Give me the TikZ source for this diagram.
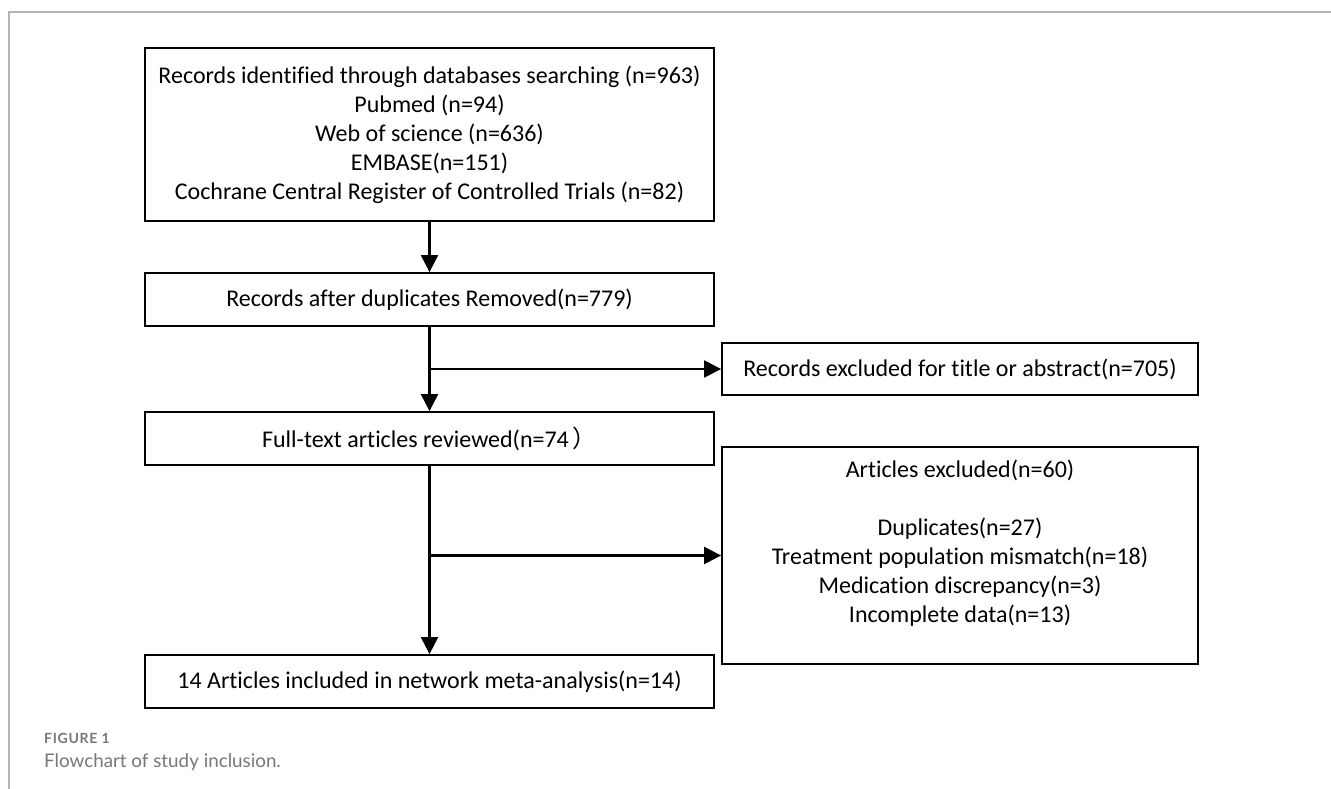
\documentclass[tikz,border=0pt]{standalone}
\usepackage{fontspec}
\setmainfont{Carlito}[Ligatures=NoCommon]
\newfontfamily\capfont{Lato}
\newfontfamily\capfontwide{Lato}[LetterSpace=5]
\newfontfamily\cjk{Noto Sans CJK SC}
\usetikzlibrary{arrows.meta}
\definecolor{framegray}{HTML}{B4B4B4}
\definecolor{capgray}{HTML}{777777}
\begin{document}
\begin{tikzpicture}[x=1pt,y=-1pt,
  flowbox/.style={draw=black,line width=1.8pt,inner sep=0pt,align=center,
    font=\fontsize{24}{29}\selectfont},
  arr/.style={line width=2.2pt,-{Triangle[length=17pt,width=17pt]}},
  frameline/.style={draw=framegray,line width=1.6pt}]
  % page area and the light frame of the figure panel
  \useasboundingbox (0,0) rectangle (1331,789);
  \draw[frameline] (1331,12) -- (9,12) -- (9,789);

  % main column
  \node[flowbox,minimum width=569pt,minimum height=173pt] (ident) at (429.5,134.5)
    {Records identified through databases searching (n=963)\\
     Pubmed (n=94)\\
     Web of science (n=636)\\
     EMBASE(n=151)\\
     Cochrane Central Register of Controlled Trials (n=82)};
  \node[flowbox,minimum width=569pt,minimum height=53pt] (dedup) at (429.5,299.5)
    {Records after duplicates Removed(n=779)};
  \node[flowbox,minimum width=569pt,minimum height=53pt] (full) at (429.5,438.5)
    {Full-text articles reviewed(n=74\hspace{4pt}{\cjk ）}};
  \node[flowbox,minimum width=569pt,minimum height=53pt] (incl) at (429.5,681.5)
    {14 Articles included in network meta-analysis(n=14)};

  % exclusion column
  \node[flowbox,minimum width=476pt,minimum height=52pt] (exTitle) at (960,369)
    {Records excluded for title or abstract(n=705)};
  \node[flowbox,minimum width=476pt,minimum height=217pt] (exFull) at (960,555.5)
    {Articles excluded(n=60)\\
     \mbox{}\\
     Duplicates(n=27)\\
     Treatment population mismatch(n=18)\\
     Medication discrepancy(n=3)\\
     Incomplete data(n=13)\\
     \mbox{}};

  % connectors
  \coordinate (j1) at (dedup.south |- exTitle.west);
  \coordinate (j2) at (full.south |- exFull.west);
  \draw[arr] (ident.south) -- (dedup.north);
  \draw[arr] (dedup.south) -- (full.north);
  \draw[arr] (full.south) -- (incl.north);
  \draw[arr] (j1) -- (exTitle.west);
  \draw[arr] (j2) -- (exFull.west);

  % caption
  \node[anchor=west,inner sep=0pt,text=capgray,font=\capfontwide\bfseries\fontsize{14}{16}\selectfont] (figno) at (44,738) {FIGURE 1};
  \node[anchor=west,inner sep=0pt,text=capgray,font=\capfont\fontsize{18.8}{22}\selectfont] (figcap) at (44,762) {Flowchart of study inclusion.};
\end{tikzpicture}
\end{document}
